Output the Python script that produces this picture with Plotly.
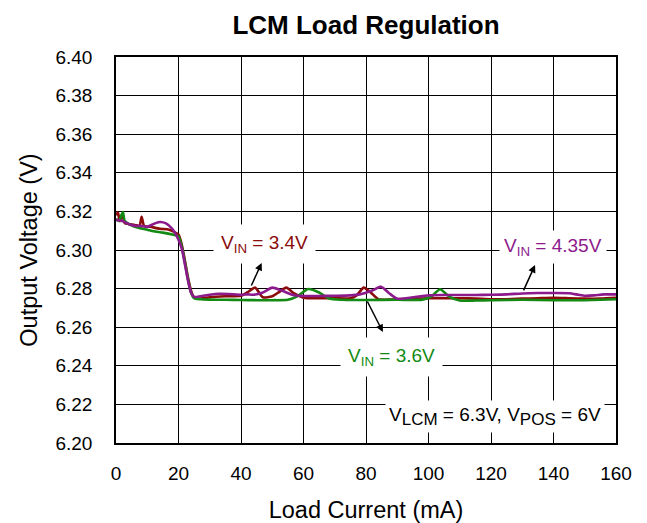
import plotly.graph_objects as go

# Data (load current in mA, output voltage in V)

x_34 = [0, 0.6, 1.2, 2, 2.8, 4, 6, 7.5, 8.2, 9, 11, 14, 17, 20, 21, 22, 23, 24, 25,
        27, 30, 35, 40, 42, 44.5, 47, 50, 52, 54.5, 57, 60, 65, 70, 75, 77, 79.3,
        81.5, 84, 88, 92, 96, 100, 105, 110, 115, 120, 125, 130, 135, 140, 145,
        150, 155, 160]
v_34 = [6.318, 6.3195, 6.315, 6.318, 6.314, 6.3135, 6.313, 6.3125, 6.3172, 6.3125,
        6.312, 6.311, 6.3105, 6.308, 6.303, 6.295, 6.286, 6.279, 6.2753,
        6.2748, 6.2755, 6.276, 6.2763, 6.278, 6.2805, 6.2755, 6.276, 6.278, 6.2805,
        6.2775, 6.2753, 6.275, 6.275, 6.275, 6.2765, 6.2805,
        6.278, 6.2745, 6.2743, 6.2745, 6.2748, 6.275, 6.275, 6.275, 6.2748, 6.2745,
        6.2745, 6.2748, 6.275, 6.2752, 6.275, 6.2748, 6.2748, 6.2752]

x_36 = [0, 1, 1.7, 2.2, 2.8, 4, 6, 8, 10, 12, 15, 18, 20, 21, 22, 23, 24, 25, 27,
        30, 35, 40, 45, 50, 55, 58, 61.5, 65, 68, 72, 80, 90, 98, 101, 103.7,
        106.5, 110, 115, 120, 130, 140, 150, 155, 160]
v_36 = [6.316, 6.315, 6.318, 6.3197, 6.315, 6.3135, 6.312, 6.3112, 6.3105, 6.3097,
        6.309, 6.308, 6.307, 6.302, 6.294, 6.285, 6.278, 6.275, 6.2745,
        6.2743, 6.2742, 6.2741, 6.274, 6.274, 6.2742, 6.276, 6.2798, 6.278, 6.275,
        6.2742, 6.2741, 6.2742, 6.2743, 6.276, 6.2797,
        6.276, 6.2738, 6.2738, 6.274, 6.2742, 6.274, 6.274, 6.2742, 6.2745]

x_435 = [0, 2, 4, 6, 8, 10, 12, 14, 16, 18, 19.5, 21, 22, 23, 24, 25, 27, 30, 33,
         36, 40, 42, 44, 47, 50, 53, 57, 60, 65, 70, 75, 78, 82, 84.8, 87.5, 90,
         95, 100, 105, 110, 115, 120, 125, 130, 135, 140, 145, 148, 150, 153, 156,
         160]
v_435 = [6.3156, 6.315, 6.3135, 6.3125, 6.3125, 6.312, 6.3135, 6.3145, 6.3138,
         6.311, 6.307, 6.301, 6.293, 6.2845, 6.278, 6.2757, 6.276, 6.2768, 6.2773,
         6.2772, 6.2768, 6.277, 6.2768, 6.278, 6.2805, 6.279, 6.2765, 6.2762,
         6.2762, 6.2763, 6.2765, 6.277, 6.279, 6.281, 6.2775, 6.2748,
         6.2755, 6.2765, 6.2767, 6.2767, 6.2767, 6.2768, 6.277, 6.2775, 6.2777,
         6.2777, 6.2776, 6.2768, 6.2763, 6.2765, 6.277, 6.277]

COLORS = {
    "red": "#8b0a0a",
    "green": "#138a13",
    "purple": "#8c1a8c",
    "black": "#000000",
}

FONT = "Liberation Sans, Arial, sans-serif"

# the page body adds an 8px margin, so the figure is sized for what is left
WIDTH, HEIGHT = 639, 515

fig = go.Figure()

series = [
    (x_34, v_34, COLORS["red"], "VIN = 3.4V"),
    (x_36, v_36, COLORS["green"], "VIN = 3.6V"),
    (x_435, v_435, COLORS["purple"], "VIN = 4.35V"),
]
for xs, vs, color, name in series:
    fig.add_trace(
        go.Scatter(
            x=xs,
            y=vs,
            mode="lines",
            name=name,
            line=dict(color=color, width=2.6, shape="spline", smoothing=0.6),
        )
    )

# Labels (white background hides the grid lines behind them)
sub_big = "<sub><span style='font-size:17px'>{}</span></sub>"
labels = [
    ("V<sub>IN</sub> = 3.4V", 47.4, 6.3032, COLORS["red"], 7),
    ("V<sub>IN</sub> = 4.35V", 139.8, 6.3018, COLORS["purple"], 4),
    ("V<sub>IN</sub> = 3.6V", 88.2, 6.2446, COLORS["green"], 7),
    ("V" + sub_big.format("LCM") + " = 6.3V, V" + sub_big.format("POS") + " = 6V",
     121.4, 6.2135, COLORS["black"], 3),
]
for text, lx, ly, color, pad in labels:
    fig.add_annotation(
        x=lx,
        y=ly,
        text=text,
        showarrow=False,
        font=dict(family=FONT, size=19, color=color),
        bgcolor="white",
        borderpad=pad,
    )

# Arrows: (head x, head y, tail x, tail y)
arrows = [
    (46.6, 6.2933, 43.1, 6.2808),
    (134.1, 6.2922, 130.2, 6.2783),
    (85.4, 6.2575, 80.2, 6.2741),
]
for hx, hy, tx, ty in arrows:
    fig.add_annotation(
        x=hx, y=hy, ax=tx, ay=ty,
        xref="x", yref="y", axref="x", ayref="y",
        text="",
        showarrow=True,
        arrowhead=2,
        arrowsize=1,
        arrowwidth=1.5,
        arrowcolor="black",
    )

fig.update_layout(
    width=WIDTH,
    height=HEIGHT,
    margin=dict(l=108, r=31, t=49, b=80),
    paper_bgcolor="white",
    plot_bgcolor="white",
    showlegend=False,
    font=dict(family=FONT, size=19, color="black"),
    title=dict(
        text="<b>LCM Load Regulation</b>",
        x=0.5,
        xref="paper",
        y=1 - 17 / HEIGHT,
        yanchor="middle",
        font=dict(family=FONT, size=26, color="black"),
    ),
    xaxis=dict(
        title=dict(text="Load Current (mA)", font=dict(size=23.5), standoff=20),
        automargin=False,
        range=[0, 160],
        dtick=20,
        tick0=0,
        showgrid=True,
        gridcolor="black",
        gridwidth=1,
        zeroline=False,
        showline=True,
        mirror=True,
        linecolor="black",
        linewidth=1.5,
        ticks="",
        ticklabelstandoff=12,
    ),
    yaxis=dict(
        title=dict(text="Output Voltage (V)", font=dict(size=23.5), standoff=11),
        automargin=False,
        range=[6.2, 6.4],
        dtick=0.02,
        tick0=6.2,
        tickformat=".2f",
        showgrid=True,
        gridcolor="black",
        gridwidth=1,
        zeroline=False,
        showline=True,
        mirror=True,
        linecolor="black",
        linewidth=1.5,
        ticks="",
        ticklabelstandoff=18,
    ),
)

fig.write_html("out.html")
